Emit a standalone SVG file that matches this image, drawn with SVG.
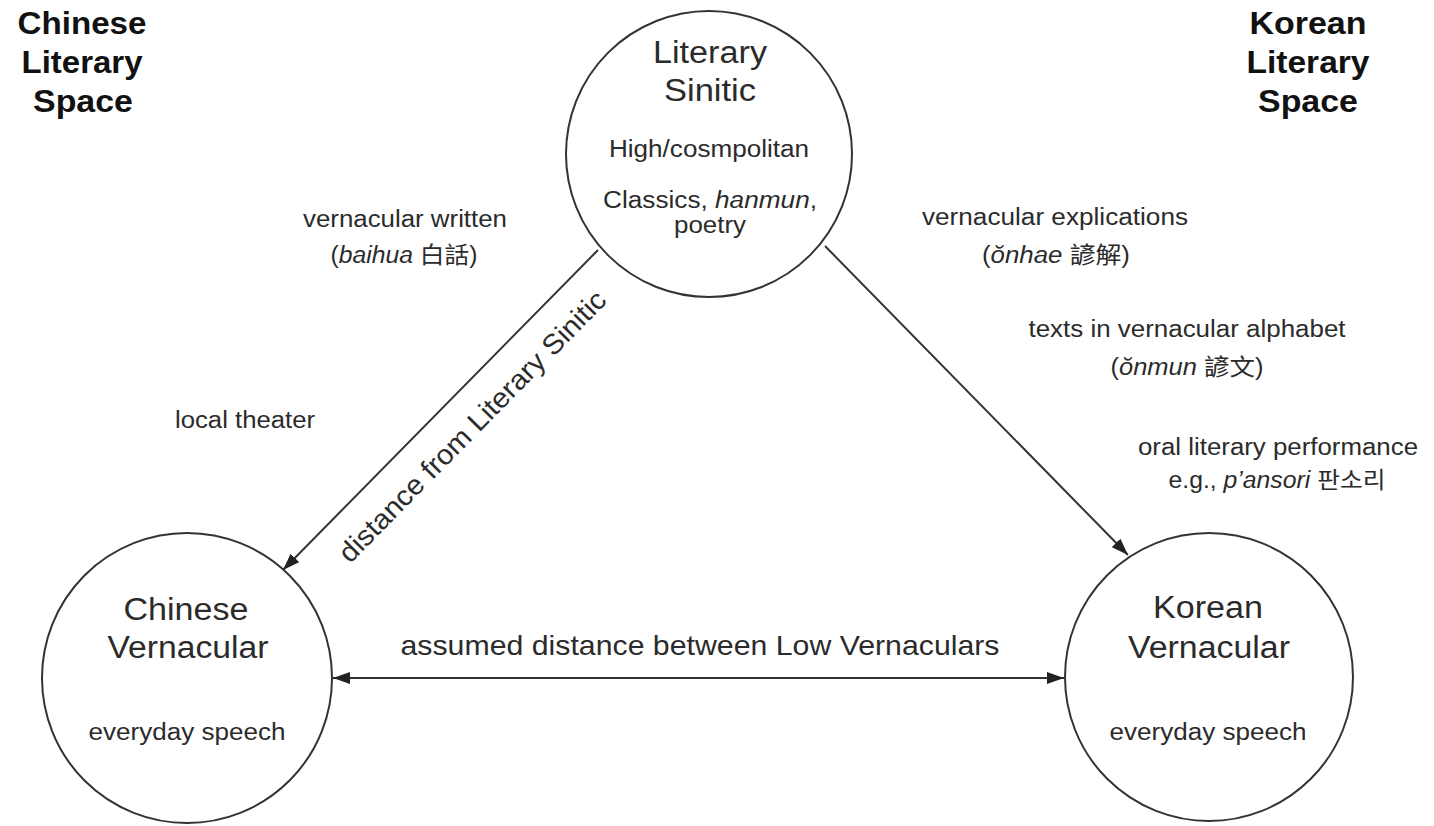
<svg xmlns="http://www.w3.org/2000/svg" width="1434" height="826" viewBox="0 0 1434 826">
<style>
text{font-family:"Liberation Sans",Arial,"Noto Sans CJK TC","Noto Sans CJK KR",sans-serif;fill:#2b2b2b;text-anchor:middle}
.hdr{font-weight:bold;font-size:32px;fill:#111}
.title{font-size:31px}
.small{font-size:23px}
.mid{font-size:28px}
.node{fill:#fff;stroke:#333;stroke-width:2}
.conn{stroke:#333;stroke-width:2;fill:none}
.i{font-style:italic}
</style>
<defs>
<marker id="ah" markerUnits="userSpaceOnUse" markerWidth="17" markerHeight="12" refX="17" refY="6" orient="auto-start-reverse">
<path d="M0,0 L17,6 L0,12 z" fill="#222"/>
</marker>
</defs>
<rect width="1434" height="826" fill="#fff"/>

<g id="header-chinese">
<text class="hdr" x="82" y="34" textLength="129" lengthAdjust="spacingAndGlyphs">Chinese</text>
<text class="hdr" x="82" y="73" textLength="121" lengthAdjust="spacingAndGlyphs">Literary</text>
<text class="hdr" x="83" y="112" textLength="100" lengthAdjust="spacingAndGlyphs">Space</text>
</g>
<g id="header-korean">
<text class="hdr" x="1308" y="34" textLength="117" lengthAdjust="spacingAndGlyphs">Korean</text>
<text class="hdr" x="1308" y="73" textLength="123" lengthAdjust="spacingAndGlyphs">Literary</text>
<text class="hdr" x="1308" y="112" textLength="100" lengthAdjust="spacingAndGlyphs">Space</text>
</g>

<g id="connectors">
<line class="conn" x1="598" y1="250" x2="283" y2="570" marker-end="url(#ah)"/>
<line class="conn" x1="825" y1="246" x2="1128" y2="555" marker-end="url(#ah)"/>
<line class="conn" x1="333" y1="678" x2="1064" y2="678" marker-start="url(#ah)" marker-end="url(#ah)"/>
<text class="mid" x="479" y="433" transform="rotate(-45.5 479 433)" textLength="368" lengthAdjust="spacingAndGlyphs">distance from Literary Sinitic</text>
<text class="mid" x="700" y="655" textLength="599" lengthAdjust="spacingAndGlyphs">assumed distance between Low Vernaculars</text>
</g>

<g id="literary-sinitic">
<circle class="node" cx="709" cy="154" r="143"/>
<text class="title" x="710" y="63" textLength="114" lengthAdjust="spacingAndGlyphs">Literary</text>
<text class="title" x="710" y="101" textLength="92" lengthAdjust="spacingAndGlyphs">Sinitic</text>
<text class="small" x="709" y="157" textLength="200" lengthAdjust="spacingAndGlyphs">High/cosmpolitan</text>
<text class="small" x="710" y="208" textLength="214" lengthAdjust="spacingAndGlyphs">Classics, <tspan class="i">hanmun</tspan>,</text>
<text class="small" x="710" y="233" textLength="72" lengthAdjust="spacingAndGlyphs">poetry</text>
</g>

<g id="chinese-vernacular">
<circle class="node" cx="187" cy="678" r="145"/>
<text class="title" x="186" y="620" textLength="125" lengthAdjust="spacingAndGlyphs">Chinese</text>
<text class="title" x="188" y="658" textLength="161" lengthAdjust="spacingAndGlyphs">Vernacular</text>
<text class="small" x="187" y="740" textLength="197" lengthAdjust="spacingAndGlyphs">everyday speech</text>
</g>

<g id="korean-vernacular">
<circle class="node" cx="1209" cy="677" r="144"/>
<text class="title" x="1208" y="618" textLength="110" lengthAdjust="spacingAndGlyphs">Korean</text>
<text class="title" x="1209" y="658" textLength="162" lengthAdjust="spacingAndGlyphs">Vernacular</text>
<text class="small" x="1208" y="740" textLength="197" lengthAdjust="spacingAndGlyphs">everyday speech</text>
</g>

<g id="label-baihua">
<text class="small" x="405" y="227" textLength="204" lengthAdjust="spacingAndGlyphs">vernacular written</text>
<text class="small" x="404" y="263" textLength="147" lengthAdjust="spacingAndGlyphs">(<tspan class="i">baihua</tspan> 白話)</text>
</g>
<g id="label-local-theater">
<text class="small" x="245" y="428" textLength="140" lengthAdjust="spacingAndGlyphs">local theater</text>
</g>
<g id="label-onhae">
<text class="small" x="1055" y="225" textLength="266" lengthAdjust="spacingAndGlyphs">vernacular explications</text>
<text class="small" x="1056" y="263" textLength="148" lengthAdjust="spacingAndGlyphs">(<tspan class="i">ŏnhae</tspan> 諺解)</text>
</g>
<g id="label-onmun">
<text class="small" x="1187" y="337" textLength="317" lengthAdjust="spacingAndGlyphs">texts in vernacular alphabet</text>
<text class="small" x="1187" y="375" textLength="153" lengthAdjust="spacingAndGlyphs">(<tspan class="i">ŏnmun</tspan> 諺文)</text>
</g>
<g id="label-pansori">
<text class="small" x="1278" y="455" textLength="280" lengthAdjust="spacingAndGlyphs">oral literary performance</text>
<text class="small" x="1277" y="488" textLength="217" lengthAdjust="spacingAndGlyphs">e.g., <tspan class="i">p’ansori</tspan> 판소리</text>
</g>
</svg>
